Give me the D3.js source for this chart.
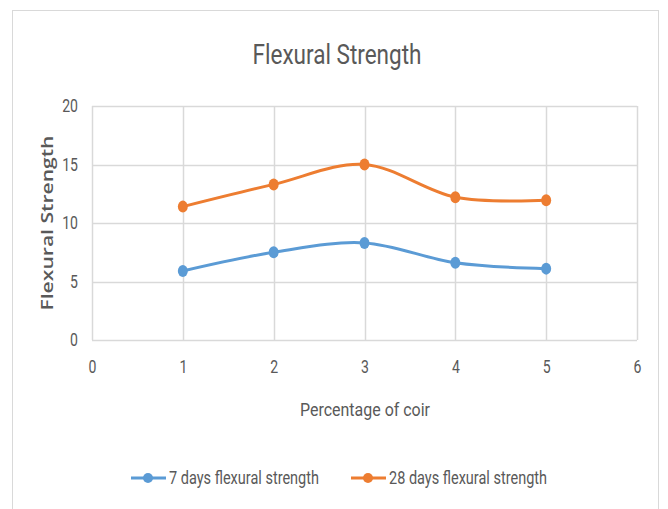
<!DOCTYPE html>
<html>
<head>
<meta charset="utf-8">
<script src="https://cdn.jsdelivr.net/npm/d3@7"></script>
<style>
  html, body { margin: 0; padding: 0; background: #fff; }
  svg text { font-family: "Roboto", "Liberation Sans", sans-serif; fill: #595959; }
</style>
</head>
<body>
<svg id="chart" width="668" height="509"></svg>
<script>
// Percentage of coir added to the mix
const coirPercent = [1, 2, 3, 4, 5];
// Flexural strength readings
const strength7Days = [5.9, 7.5, 8.3, 6.6, 6.1];
const strength28Days = [11.4, 13.3, 15.0, 12.2, 11.95];
const xTicks = [0, 1, 2, 3, 4, 5, 6];
const yTicks = [0, 5, 10, 15, 20];
const seriesNames = ["7 days flexural strength", "28 days flexural strength"];
const seriesColors = ["#5b9bd5", "#ed7d31"];

const svg = d3.select("#chart");

// outer chart frame
svg.append("rect")
  .attr("x", 12.5).attr("y", 10.5)
  .attr("width", 646).attr("height", 520)
  .attr("fill", "#fff").attr("stroke", "#d9d9d9").attr("stroke-width", 1);

const plot = { left: 92, right: 637, top: 106, bottom: 340 };

const x = d3.scaleLinear().domain([0, 6]).range([plot.left, plot.right]);
const y = d3.scaleLinear().domain([0, 20]).range([plot.bottom, plot.top]);

// gridlines
const grid = svg.append("g");
grid.selectAll("line.h").data(yTicks).join("line")
  .attr("x1", plot.left).attr("x2", plot.right)
  .attr("y1", d => Math.round(y(d)) + 0.5).attr("y2", d => Math.round(y(d)) + 0.5)
  .attr("stroke", "#d9d9d9").attr("stroke-width", 1.5);
grid.selectAll("line.v").data(xTicks).join("line")
  .attr("y1", plot.top).attr("y2", plot.bottom)
  .attr("x1", d => Math.round(x(d)) + 0.5).attr("x2", d => Math.round(x(d)) + 0.5)
  .attr("stroke", "#d9d9d9").attr("stroke-width", 1.5);

// condensed look for the narrow labels
function narrow(sel, sx) {
  sel.each(function () {
    const t = d3.select(this);
    const len = this.getComputedTextLength();
    t.attr("textLength", len * sx).attr("lengthAdjust", "spacingAndGlyphs");
  });
}

// axes (labels only; lines come from the grid)
const xAxis = svg.append("g")
  .attr("transform", `translate(0,${plot.bottom})`)
  .call(d3.axisBottom(x).tickValues(xTicks).tickSize(0).tickPadding(20).tickFormat(d3.format("d")));
xAxis.select(".domain").remove();
xAxis.selectAll("text").attr("font-size", 18).attr("fill", "#595959")
  .style("font-family", "Roboto, sans-serif").call(narrow, 0.78);

const yAxis = svg.append("g")
  .attr("transform", `translate(${plot.left},0)`)
  .call(d3.axisLeft(y).tickValues(yTicks).tickSize(0).tickPadding(14).tickFormat(d3.format("d")));
yAxis.select(".domain").remove();
yAxis.selectAll("text").attr("font-size", 18).attr("fill", "#595959")
  .style("font-family", "Roboto, sans-serif").call(narrow, 0.78);

// title
svg.append("text")
  .attr("x", 337).attr("y", 64)
  .attr("text-anchor", "middle")
  .attr("font-size", 27)
  .attr("textLength", 169).attr("lengthAdjust", "spacingAndGlyphs")
  .text("Flexural Strength");

// axis titles
svg.append("text")
  .attr("x", 365).attr("y", 416)
  .attr("text-anchor", "middle")
  .attr("font-size", 18)
  .attr("textLength", 130).attr("lengthAdjust", "spacingAndGlyphs")
  .text("Percentage of coir");

svg.append("text")
  .attr("transform", `translate(53,223) rotate(-90)`)
  .attr("text-anchor", "middle")
  .attr("font-size", 16)
  .attr("font-weight", 600)
  .attr("textLength", 175).attr("lengthAdjust", "spacingAndGlyphs")
  .style("font-family", "'Open Sans', 'DejaVu Sans', sans-serif")
  .text("Flexural Strength");

// smoothed series lines with markers
const line = d3.line()
  .x(d => x(d[0])).y(d => y(d[1]))
  .curve(d3.curveCardinal.tension(0));

[strength7Days, strength28Days].forEach((vals, i) => {
  const pts = coirPercent.map((c, j) => [c, vals[j]]);
  svg.append("path")
    .datum(pts)
    .attr("d", line)
    .attr("fill", "none")
    .attr("stroke", seriesColors[i])
    .attr("stroke-width", 3)
    .attr("stroke-linecap", "round");
  svg.selectAll(null).data(pts).join("ellipse")
    .attr("cx", d => x(d[0])).attr("cy", d => y(d[1]))
    .attr("rx", 5).attr("ry", 6)
    .attr("fill", seriesColors[i]);
});

// legend
const legendItems = [
  { x: 131, len: 150, label: seriesNames[0], color: seriesColors[0] },
  { x: 351, len: 158, label: seriesNames[1], color: seriesColors[1] }
];
const legendY = 478;
legendItems.forEach(it => {
  const g = svg.append("g");
  g.append("line")
    .attr("x1", it.x).attr("x2", it.x + 35)
    .attr("y1", legendY).attr("y2", legendY)
    .attr("stroke", it.color).attr("stroke-width", 3);
  g.append("circle")
    .attr("cx", it.x + 17).attr("cy", legendY).attr("r", 5)
    .attr("fill", it.color);
  g.append("text")
    .attr("x", it.x + 38).attr("y", legendY + 6)
    .attr("font-size", 18)
    .attr("textLength", it.len).attr("lengthAdjust", "spacingAndGlyphs")
    .text(it.label);
});
</script>
</body>
</html>
